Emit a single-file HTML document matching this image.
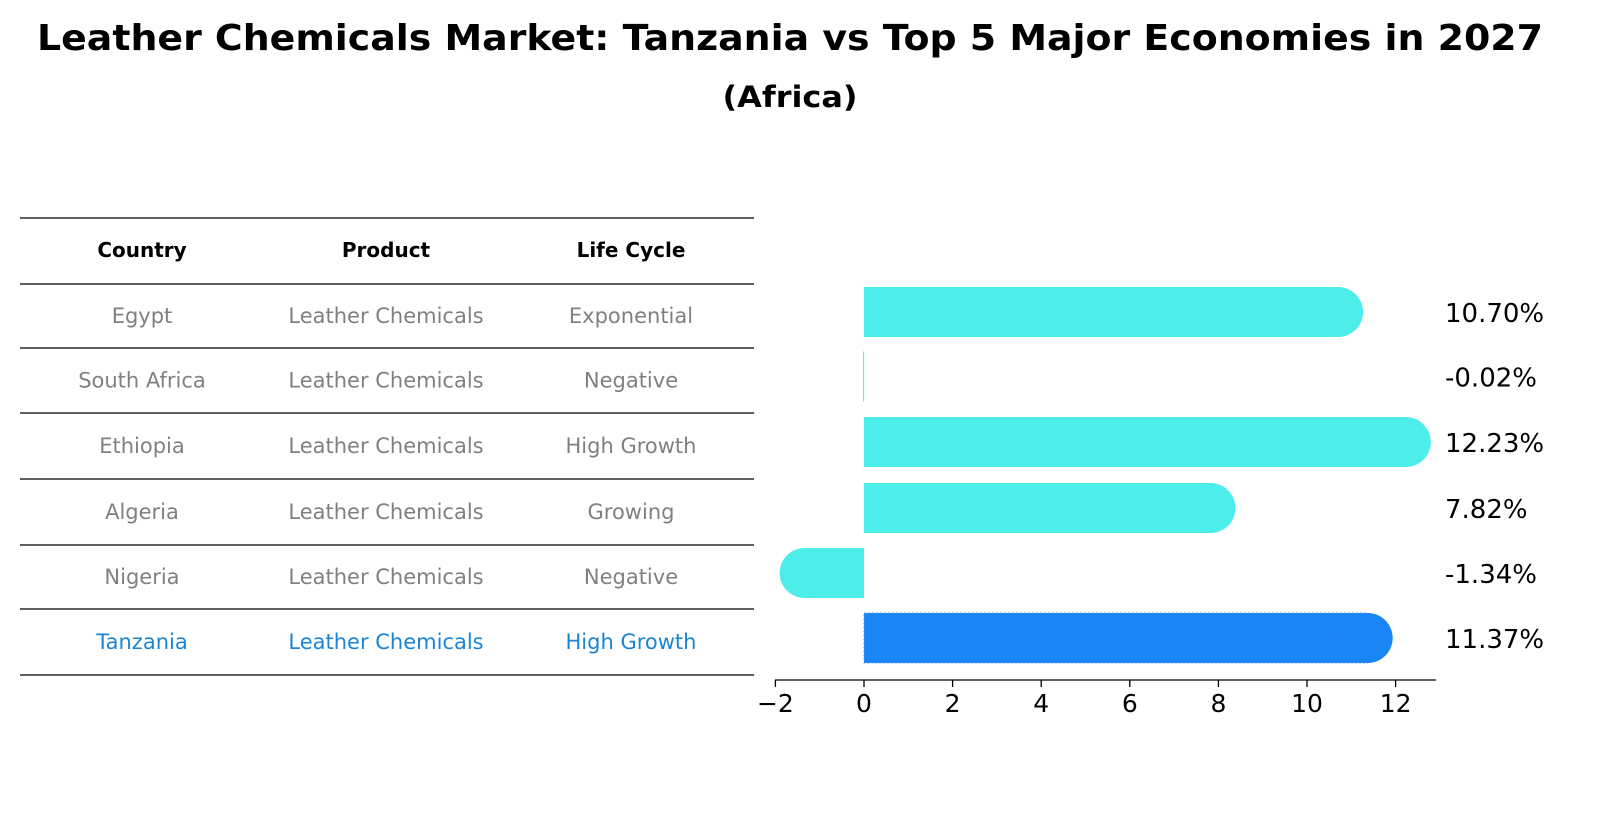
<!DOCTYPE html>
<html><head><meta charset="utf-8"><style>
body{margin:0;background:#fff;font-family:"Liberation Sans","DejaVu Sans",sans-serif;}
svg{display:block}
</style></head><body>
<svg width="1604" height="823" viewBox="0 0 1604 823" xmlns="http://www.w3.org/2000/svg">
<text x="790" y="50" text-anchor="middle" font-size="36" font-weight="bold" font-family="DejaVu Sans, sans-serif" textLength="1506" lengthAdjust="spacingAndGlyphs">Leather Chemicals Market: Tanzania vs Top 5 Major Economies in 2027</text>
<text x="790" y="107" text-anchor="middle" font-size="29" font-weight="bold" font-family="DejaVu Sans, sans-serif" textLength="135" lengthAdjust="spacingAndGlyphs">(Africa)</text>
<g id="table"></g>
<g id="bars"></g>
</svg>
<script>
const countries=["Egypt","South Africa","Ethiopia","Algeria","Nigeria","Tanzania"];
const products=["Leather Chemicals","Leather Chemicals","Leather Chemicals","Leather Chemicals","Leather Chemicals","Leather Chemicals"];
const lifeCycles=["Exponential","Negative","High Growth","Growing","Negative","High Growth"];
const growthValues=[10.70,-0.02,12.23,7.82,-1.34,11.37];
const xTicks=[-2,0,2,4,6,8,10,12];
const NS="http://www.w3.org/2000/svg";
function mk(tag,attrs,parent){const e=document.createElementNS(NS,tag);for(const k in attrs)e.setAttribute(k,attrs[k]);parent.appendChild(e);return e;}
const tbl=document.getElementById('table');
const lineYs=[218,284,348,413,479,545,609,675];
lineYs.forEach(y=>{const l=mk('line',{x1:20,x2:754,y1:y,y2:y,stroke:'#000','stroke-width':1.2},tbl);

});
const colX=[142,386,631];
["Country","Product","Life Cycle"].forEach((h,i)=>{const t=mk('text',{x:colX[i],y:257,'text-anchor':'middle','font-size':20,'font-weight':'bold','font-family':'DejaVu Sans, sans-serif'},tbl);t.textContent=h;

});
const rowY=i=>(lineYs[i+1]+lineYs[i+2])/2+7;
countries.forEach((c,i)=>{const col=i===countries.length-1?'#1a85d6':'#808080';
[c,products[i],lifeCycles[i]].forEach((v,j)=>{const t=mk('text',{x:colX[j],y:rowY(i),'text-anchor':'middle','font-size':21,fill:col,'font-family':'DejaVu Sans, sans-serif'},tbl);t.textContent=v;

});});
const bars=document.getElementById('bars');
const x0=864,ppu=44.3;
const xs=v=>x0+v*ppu;
const bh=50,r=25;
growthValues.forEach((v,i)=>{const cy=rowY(i)-11;const last=i===growthValues.length-1;const col=last?'#1a85f5':'#4deeea';
const g=mk('g',{},bars);


const a=Math.min(xs(0),xs(v)),b=Math.max(xs(0),xs(v));
mk('rect',{x:a,y:cy-bh/2,width:Math.max(b-a,1),height:bh,fill:col,stroke:last?'#5aa0f0':'none','stroke-dasharray':'2,2'},g);
if(Math.abs(v)>0.1)mk('circle',{cx:xs(v),cy:cy,r:r,fill:col},g);
const t=mk('text',{x:1445,y:cy+10,'font-size':26,'font-family':'DejaVu Sans, sans-serif'},bars);t.textContent=v.toFixed(2)+'%';

});
const ax=mk('line',{x1:775,x2:1436,y1:680,y2:680,stroke:'#000','stroke-width':1.3},bars);


xTicks.forEach(v=>{const tk=mk('line',{x1:xs(v),x2:xs(v),y1:680,y2:687,stroke:'#000','stroke-width':1.3},bars);


const t=mk('text',{x:xs(v),y:712,'text-anchor':'middle','font-size':25,'font-family':'DejaVu Sans, sans-serif'},bars);t.textContent=v<0?'\u2212'+Math.abs(v):String(v);

});
</script>
</body></html>
